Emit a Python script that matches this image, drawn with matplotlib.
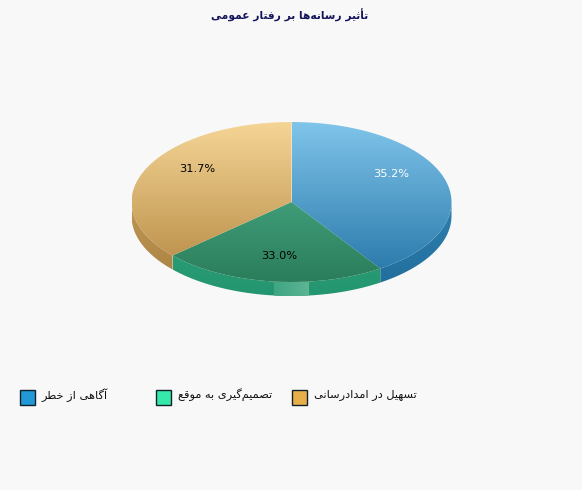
import numpy as np
import matplotlib
matplotlib.use('Agg')
import matplotlib.pyplot as plt
from matplotlib.path import Path
from matplotlib.patches import PathPatch, Rectangle
from matplotlib.colors import LinearSegmentedColormap

title = 'تأثیر رسانه‌ها بر رفتار عمومی'
categories = ['آگاهی از خطر', 'تصمیم‌گیری به موقع', 'تسهیل در امدادرسانی']
values = [35.2, 33.0, 31.7]

top_colors = [('#80C4EA', '#2C7CAD'), ('#3F9C78', '#2B7D5B'), ('#F5D596', '#BF9550')]
side_colors = [('#2F7FAE', '#226F9E'), ('#2A9C74', '#239570'), ('#BF9654', '#AD8646')]
swatch_colors = ['#2299D6', '#36E8A9', '#E6AF4A']
label_colors = ['white', 'black', 'black']

# layout, in pixels
cx, cy, rx, ry, depth = 291.5, 202, 160, 80, 14
label_pos = [(391, 174), (279, 256), (197, 169)]
legend_x = [20, 156, 292]
legend_y = 390
bg = '#F8F8F8'

# only the letters used here: isolated, final, initial, medial
forms = {
    'ا': 'ﺍﺎ', 'آ': 'ﺁﺂ', 'أ': 'ﺃﺄ', 'د': 'ﺩﺪ', 'ر': 'ﺭﺮ', 'ز': 'ﺯﺰ', 'و': 'ﻭﻮ',
    'ب': 'ﺏﺐﺑﺒ', 'ت': 'ﺕﺖﺗﺘ', 'ث': 'ﺙﺚﺛﺜ', 'خ': 'ﺥﺦﺧﺨ', 'س': 'ﺱﺲﺳﺴ',
    'ص': 'ﺹﺺﺻﺼ', 'ط': 'ﻁﻂﻃﻄ', 'ع': 'ﻉﻊﻋﻌ', 'ف': 'ﻑﻒﻓﻔ', 'ق': 'ﻕﻖﻗﻘ',
    'ل': 'ﻝﻞﻟﻠ', 'م': 'ﻡﻢﻣﻤ', 'ن': 'ﻥﻦﻧﻨ', 'ه': 'ﻩﻪﻫﻬ',
    'گ': 'ﮒﮓﮔﮕ', 'ی': 'ﯼﯽﯾﯿ',
}


def shape(s):
    # matplotlib does no arabic shaping, so join the letters and flip the order
    out = []
    for i, c in enumerate(s):
        if c not in forms:
            if c != '\u200c':
                out.append(c)
            continue
        prev = s[i - 1] if i > 0 else ''
        nxt = s[i + 1] if i < len(s) - 1 else ''
        join_prev = prev in forms and len(forms[prev]) == 4
        join_next = nxt in forms and len(forms[c]) == 4
        if join_prev and join_next:
            out.append(forms[c][3])
        elif join_prev:
            out.append(forms[c][1])
        elif join_next:
            out.append(forms[c][2])
        else:
            out.append(forms[c][0])
    return ''.join(reversed(out))


def edge(theta):
    # the slices are true angles on screen, turn that into the ellipse parameter
    t = np.arctan2(np.sin(theta) / rx, np.cos(theta) / ry)
    return t % (2 * np.pi)


def pts(t, dy=0):
    return np.column_stack([cx + rx * np.sin(t), cy - ry * np.cos(t) + dy])


def fill(ax, poly, c1, c2, z, horizontal=False):
    cmap = LinearSegmentedColormap.from_list('g', [c1, c2])
    patch = PathPatch(Path(np.vstack([poly, poly[:1]])), fc='none', ec='none')
    ax.add_patch(patch)
    x0, y0 = poly.min(axis=0)
    x1, y1 = poly.max(axis=0)
    g = np.linspace(0, 1, 128).reshape(-1, 1)
    if horizontal:
        g = g.T
    im = ax.imshow(g, cmap=cmap, extent=[x0, x1, y1, y0], aspect='auto', zorder=z,
                   interpolation='bilinear')
    im.set_clip_path(patch)


fig = plt.figure(figsize=(5.82, 4.9), dpi=100, facecolor=bg)
ax = fig.add_axes([0, 0, 1, 1])
ax.set_facecolor(bg)

shares = np.array(values) / 100
shares = shares / shares.sum()
bounds = np.concatenate([[0], np.cumsum(shares)]) * 2 * np.pi
params = edge(bounds)
params[-1] = 2 * np.pi

for i in range(len(values)):
    t0, t1 = params[i], params[i + 1]
    s0, s1 = max(t0, np.pi / 2), min(t1, 3 * np.pi / 2)
    if s1 > s0:
        arc = np.linspace(s0, s1, 80)
        poly = np.vstack([pts(arc), pts(arc[::-1], depth)])
        fill(ax, poly, side_colors[i][0], side_colors[i][1], 2)
        if i == 1:
            # light patch on the front of the rim
            hl = np.linspace(np.pi - 0.11, np.pi + 0.11, 20)
            rim = np.vstack([pts(hl), pts(hl[::-1], depth)])
            fill(ax, rim, '#3FA582', '#5DB595', 3, horizontal=True)
    arc = np.linspace(t0, t1, 200)
    poly = np.vstack([[[cx, cy]], pts(arc)])
    fill(ax, poly, top_colors[i][0], top_colors[i][1], 4)

for i, (x, y) in enumerate(label_pos):
    ax.text(x, y, '%.1f%%' % values[i], color=label_colors[i], fontsize=8.2,
            ha='center', va='center', zorder=6, family='DejaVu Sans')

ax.text(290, 15, shape(title), color='#14145C', fontsize=7.7, fontweight='bold',
        ha='center', va='center', family='DejaVu Sans')

for i, name in enumerate(categories):
    ax.add_patch(Rectangle((legend_x[i], legend_y), 15, 15, fc=swatch_colors[i],
                           ec='#10202C', lw=1, zorder=5))
    ax.text(legend_x[i] + 22, legend_y + 5, shape(name), color='#111111', fontsize=8.2,
            ha='left', va='center', family='DejaVu Sans')

ax.set_xlim(0, 582)
ax.set_ylim(490, 0)
ax.axis('off')
fig.savefig('out.png', dpi=100, facecolor=bg)
